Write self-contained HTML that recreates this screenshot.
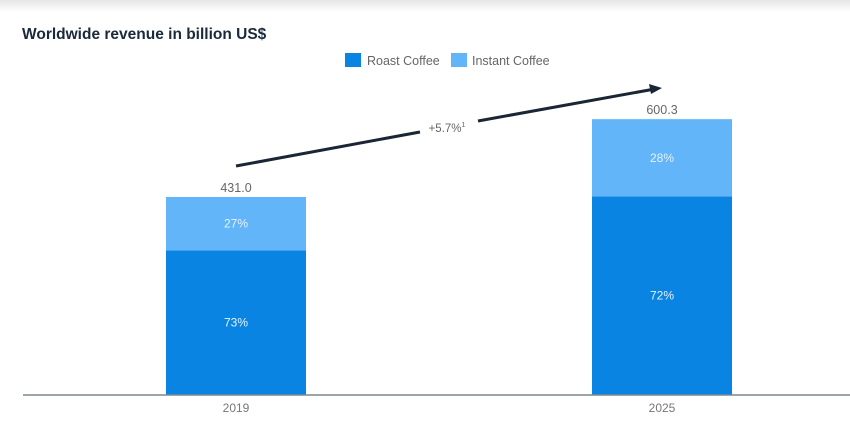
<!DOCTYPE html>
<html><head><meta charset="utf-8"><style>
body{margin:0;width:850px;height:437px;background:#fff;overflow:hidden;font-family:"Liberation Sans",sans-serif}
#top-shadow{position:absolute;left:0;top:0;width:850px;height:12px;background:linear-gradient(#e6e6e6,#fff)}
</style></head><body>
<div id="top-shadow"></div>
<svg width="850" height="437" style="position:absolute;left:0;top:0">
<text x="22" y="39" font-size="15.5" font-weight="bold" fill="#1a2a3a">Worldwide revenue in billion US$</text>
<g>
<rect x="345" y="53" width="16" height="14" fill="#0a84e3"/>
<text x="367" y="65" font-size="12.5" fill="#666">Roast Coffee</text>
<rect x="451" y="53" width="16" height="14" fill="#62b5f8"/>
<text x="472" y="65" font-size="12.5" fill="#666">Instant Coffee</text>
</g>
<g id="bars"></g>
<line x1="23" y1="395" x2="850" y2="395" stroke="#7d8791" stroke-width="1.5"/>
<g>
<line x1="236" y1="166" x2="420" y2="132" stroke="#1a2535" stroke-width="3"/>
<line x1="478" y1="121" x2="652" y2="89.5" stroke="#1a2535" stroke-width="3"/>
<polygon points="662,88 649,84 651,94" fill="#1a2535"/>
<text x="447" y="132" font-size="11.5" fill="#666" text-anchor="middle">+5.7%<tspan font-size="7" dy="-5">1</tspan></text>
</g>
</svg>
<script>
const categories=["2019","2025"];
const totals=[431.0,600.3];
const roastShare=[73,72];
const instantShare=[27,28];
const totalLabels=["431.0","600.3"];
const NS="http://www.w3.org/2000/svg";
const g=document.getElementById("bars");
const base=395, scale=0.4595;
const xPos=i=>166+i*426, bw=140;
function el(t,a){const e=document.createElementNS(NS,t);for(const k in a)e.setAttribute(k,a[k]);g.appendChild(e);return e;}
categories.forEach((c,i)=>{
const h=totals[i]*scale, hr=h*roastShare[i]/100, x=xPos(i);
const r=el("rect",{x:x,y:base-hr,width:bw,height:hr,fill:"#0a84e3"});


const s=el("rect",{x:x,y:base-h,width:bw,height:h-hr,fill:"#62b5f8"});


const t1=el("text",{x:x+bw/2,y:base-hr/2+4,"font-size":12,fill:"#e6f2fc","text-anchor":"middle"});t1.textContent=roastShare[i]+"%";


const t2=el("text",{x:x+bw/2,y:base-hr-(h-hr)/2+4,"font-size":12,fill:"#e6f2fc","text-anchor":"middle"});t2.textContent=instantShare[i]+"%";


const t3=el("text",{x:x+bw/2,y:base-h-5,"font-size":12.5,fill:"#666","text-anchor":"middle"});t3.textContent=totalLabels[i];


const t4=el("text",{x:x+bw/2,y:base+17,"font-size":12,fill:"#777","text-anchor":"middle"});t4.textContent=c;


});
</script>
</body></html>
